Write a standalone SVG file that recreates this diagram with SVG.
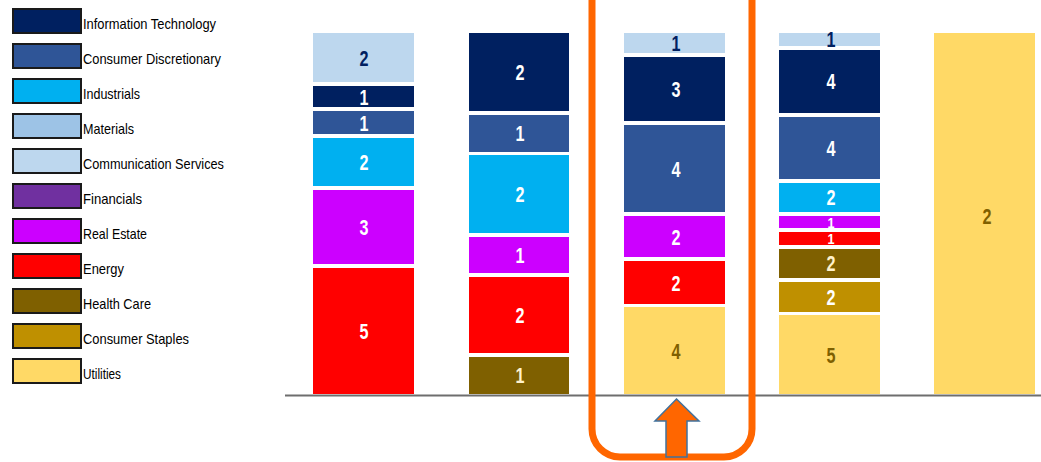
<svg xmlns="http://www.w3.org/2000/svg" width="1041" height="462" viewBox="0 0 1041 462">
<style>
.sw{stroke:#1a1a1a;stroke-width:2}
.lt{font-family:"Liberation Sans",Arial,sans-serif;font-size:15px;fill:#000}
.v{font-family:"Liberation Sans",Arial,sans-serif;font-weight:bold;font-size:22px;text-anchor:middle}
.sm{font-size:15px}
.w{fill:#FFFFFF}.cr{fill:#FFF2CC}.nv{fill:#002060}.br{fill:#7F6000}
.it{fill:#002060}.cd{fill:#2F5597}.ind{fill:#00B0F0}.mat{fill:#9DC3E6}.cs{fill:#BDD7EE}
.fin{fill:#7030A0}.re{fill:#CC00FF}.en{fill:#FF0000}.hc{fill:#7F6000}.st{fill:#BF9000}.ut{fill:#FFD966}
</style>
<rect width="1041" height="462" fill="#fff"/>
<g id="legend">
<g id="lg-it"><rect class="sw it" x="13" y="9" width="68" height="24"/><text class="lt" x="83" y="29" textLength="133" lengthAdjust="spacingAndGlyphs">Information Technology</text></g>
<g id="lg-cd"><rect class="sw cd" x="13" y="44" width="68" height="24"/><text class="lt" x="83" y="64" textLength="138" lengthAdjust="spacingAndGlyphs">Consumer Discretionary</text></g>
<g id="lg-ind"><rect class="sw ind" x="13" y="79" width="68" height="24"/><text class="lt" x="83" y="99" textLength="57" lengthAdjust="spacingAndGlyphs">Industrials</text></g>
<g id="lg-mat"><rect class="sw mat" x="13" y="114" width="68" height="24"/><text class="lt" x="83" y="134" textLength="51" lengthAdjust="spacingAndGlyphs">Materials</text></g>
<g id="lg-cs"><rect class="sw cs" x="13" y="149" width="68" height="24"/><text class="lt" x="83" y="169" textLength="141" lengthAdjust="spacingAndGlyphs">Communication Services</text></g>
<g id="lg-fin"><rect class="sw fin" x="13" y="184" width="68" height="24"/><text class="lt" x="83" y="204" textLength="59" lengthAdjust="spacingAndGlyphs">Financials</text></g>
<g id="lg-re"><rect class="sw re" x="13" y="219" width="68" height="24"/><text class="lt" x="83" y="239" textLength="64" lengthAdjust="spacingAndGlyphs">Real Estate</text></g>
<g id="lg-en"><rect class="sw en" x="13" y="254" width="68" height="24"/><text class="lt" x="83" y="274" textLength="41" lengthAdjust="spacingAndGlyphs">Energy</text></g>
<g id="lg-hc"><rect class="sw hc" x="13" y="289" width="68" height="24"/><text class="lt" x="83" y="309" textLength="68" lengthAdjust="spacingAndGlyphs">Health Care</text></g>
<g id="lg-st"><rect class="sw st" x="13" y="324" width="68" height="24"/><text class="lt" x="83" y="344" textLength="106" lengthAdjust="spacingAndGlyphs">Consumer Staples</text></g>
<g id="lg-ut"><rect class="sw ut" x="13" y="359" width="68" height="24"/><text class="lt" x="83" y="379" textLength="38" lengthAdjust="spacingAndGlyphs">Utilities</text></g>
</g>
<g id="axis"><line x1="285" y1="395.5" x2="1041" y2="395.5" stroke="#6E6E6E" stroke-width="2"/></g>
<g id="bar1">
<rect class="cs" x="313" y="33" width="101" height="49"/><text class="v nv" x="364" y="66" textLength="9" lengthAdjust="spacingAndGlyphs">2</text>
<rect class="it" x="313" y="86" width="101" height="21"/><text class="v w" x="364" y="105" textLength="9" lengthAdjust="spacingAndGlyphs">1</text>
<rect class="cd" x="313" y="111" width="101" height="23"/><text class="v w" x="364" y="131" textLength="9" lengthAdjust="spacingAndGlyphs">1</text>
<rect class="ind" x="313" y="138" width="101" height="48"/><text class="v w" x="364" y="170" textLength="9" lengthAdjust="spacingAndGlyphs">2</text>
<rect class="re" x="313" y="190" width="101" height="74"/><text class="v w" x="364" y="235" textLength="9" lengthAdjust="spacingAndGlyphs">3</text>
<rect class="en" x="313" y="268" width="101" height="126"/><text class="v w" x="364" y="339" textLength="9" lengthAdjust="spacingAndGlyphs">5</text>
</g>
<g id="bar2">
<rect class="it" x="469" y="33" width="100" height="78"/><text class="v w" x="520" y="80" textLength="9" lengthAdjust="spacingAndGlyphs">2</text>
<rect class="cd" x="469" y="115" width="100" height="37"/><text class="v w" x="520" y="141" textLength="9" lengthAdjust="spacingAndGlyphs">1</text>
<rect class="ind" x="469" y="155" width="100" height="78"/><text class="v w" x="520" y="202" textLength="9" lengthAdjust="spacingAndGlyphs">2</text>
<rect class="re" x="469" y="237" width="100" height="36"/><text class="v w" x="520" y="263" textLength="9" lengthAdjust="spacingAndGlyphs">1</text>
<rect class="en" x="469" y="277" width="100" height="76"/><text class="v w" x="520" y="323" textLength="9" lengthAdjust="spacingAndGlyphs">2</text>
<rect class="hc" x="469" y="357" width="100" height="37"/><text class="v cr" x="520" y="383" textLength="9" lengthAdjust="spacingAndGlyphs">1</text>
</g>
<g id="bar3">
<rect class="cs" x="624" y="33" width="101" height="20"/><text class="v nv" x="676" y="51" textLength="9" lengthAdjust="spacingAndGlyphs">1</text>
<rect class="it" x="624" y="57" width="101" height="64"/><text class="v w" x="676" y="97" textLength="9" lengthAdjust="spacingAndGlyphs">3</text>
<rect class="cd" x="624" y="125" width="101" height="87"/><text class="v w" x="676" y="177" textLength="9" lengthAdjust="spacingAndGlyphs">4</text>
<rect class="re" x="624" y="216" width="101" height="41"/><text class="v w" x="676" y="245" textLength="9" lengthAdjust="spacingAndGlyphs">2</text>
<rect class="en" x="624" y="261" width="101" height="43"/><text class="v w" x="676" y="291" textLength="9" lengthAdjust="spacingAndGlyphs">2</text>
<rect class="ut" x="624" y="307" width="101" height="87"/><text class="v br" x="676" y="359" textLength="9" lengthAdjust="spacingAndGlyphs">4</text>
</g>
<g id="bar4">
<rect class="cs" x="779" y="33" width="101" height="13"/><text class="v nv" x="831" y="47" textLength="9" lengthAdjust="spacingAndGlyphs">1</text>
<rect class="it" x="779" y="50" width="101" height="63"/><text class="v w" x="831" y="89" textLength="9" lengthAdjust="spacingAndGlyphs">4</text>
<rect class="cd" x="779" y="117" width="101" height="62"/><text class="v w" x="831" y="156" textLength="9" lengthAdjust="spacingAndGlyphs">4</text>
<rect class="ind" x="779" y="183" width="101" height="29"/><text class="v w" x="831" y="205" textLength="9" lengthAdjust="spacingAndGlyphs">2</text>
<rect class="re" x="779" y="216" width="101" height="12"/><text class="v sm w" x="831" y="227.5" textLength="7" lengthAdjust="spacingAndGlyphs">1</text>
<rect class="en" x="779" y="232" width="101" height="13"/><text class="v sm w" x="831" y="244" textLength="7" lengthAdjust="spacingAndGlyphs">1</text>
<rect class="hc" x="779" y="249" width="101" height="29"/><text class="v cr" x="831" y="271" textLength="9" lengthAdjust="spacingAndGlyphs">2</text>
<rect class="st" x="779" y="282" width="101" height="30"/><text class="v w" x="831" y="305" textLength="9" lengthAdjust="spacingAndGlyphs">2</text>
<rect class="ut" x="779" y="315" width="101" height="79"/><text class="v br" x="831" y="363" textLength="9" lengthAdjust="spacingAndGlyphs">5</text>
</g>
<g id="bar5">
<rect class="ut" x="934" y="33" width="101" height="361"/><text class="v br" x="987" y="224" textLength="9" lengthAdjust="spacingAndGlyphs">2</text>
</g>
<g id="highlight">
<rect x="592" y="-40" width="160" height="497" rx="28" fill="none" stroke="#FF6600" stroke-width="7"/>
<polygon points="676.5,399 699,421 687,421 687,457 666,457 666,421 655,421" fill="#FF6600" stroke="#41719C" stroke-width="1.5" stroke-linejoin="miter"/>
</g>
</svg>
